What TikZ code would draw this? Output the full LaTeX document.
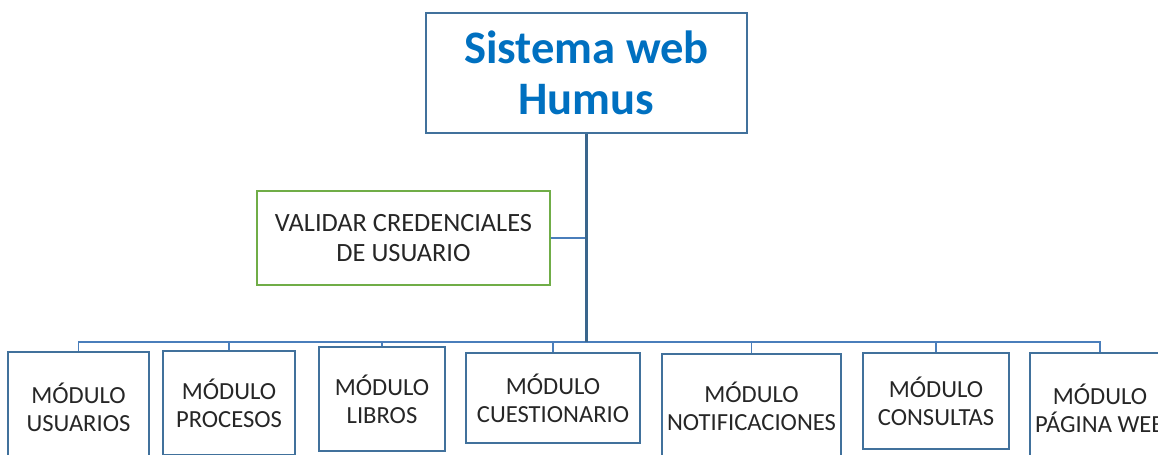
\documentclass[tikz,border=0pt]{standalone}
\usepackage{fontspec}
\setmainfont{Carlito}
\usetikzlibrary{positioning}
\definecolor{boxblue}{HTML}{41719C}
\definecolor{linkblue}{HTML}{4A7EBB}
\definecolor{titleblue}{HTML}{0070C0}
\definecolor{valgreen}{HTML}{70AD47}
\definecolor{ink}{HTML}{262626}

\begin{document}
\begin{tikzpicture}[x=0.02cm,y=-0.02cm,
    box/.style={draw=boxblue,line width=0.8pt,rectangle,align=center,inner sep=2pt,text=ink},
    modbox/.style={box,font=\fontsize{14}{16}\selectfont},
    conn/.style={draw=linkblue,line width=0.9pt},
    trunk/.style={draw=boxblue!90!black,line width=1.7pt}]
    \useasboundingbox (0,0) rectangle (1158,455);
    \clip (0,0) rectangle (1158,455);

    \node[box,minimum width=6.42cm,minimum height=2.4cm,text=titleblue,
          font=\fontsize{26.5}{29}\selectfont\bfseries] (top) at (586.5,73) {Sistema web\\Humus};
    \node[box,draw=valgreen,minimum width=5.86cm,minimum height=1.88cm,
          font=\fontsize{15}{16.8}\selectfont] (val) at (403.5,238) {VALIDAR CREDENCIALES\\DE USUARIO};

    % modulos
    \foreach \name/\cx/\cy/\w/\h/\txt in {usu/78.5/407/141/110/USUARIOS,
        pro/229/403/132/104/PROCESOS, lib/382/399/126/104/LIBROS,
        cue/553/398/174/90/CUESTIONARIO, noti/751.5/406/179/104/NOTIFICACIONES,
        cons/936/401/146/96/CONSULTAS, pag/1100/408/140/110/{PÁGINA WEB}}
    \node[modbox,minimum width=\w*0.02cm,minimum height=\h*0.02cm] (\name) at (\cx,\cy) {MÓDULO\\\txt};

    \coordinate (hub) at (586.5,342);
    \foreach \name in {usu,pro,lib,cue,noti,cons,pag}
    \draw[conn] (hub) -| (\name.north);
    \draw[conn] (val.east) -- (val.east -| top.south);
    \draw[trunk] (top.south) -- (hub);
\end{tikzpicture}
\end{document}
